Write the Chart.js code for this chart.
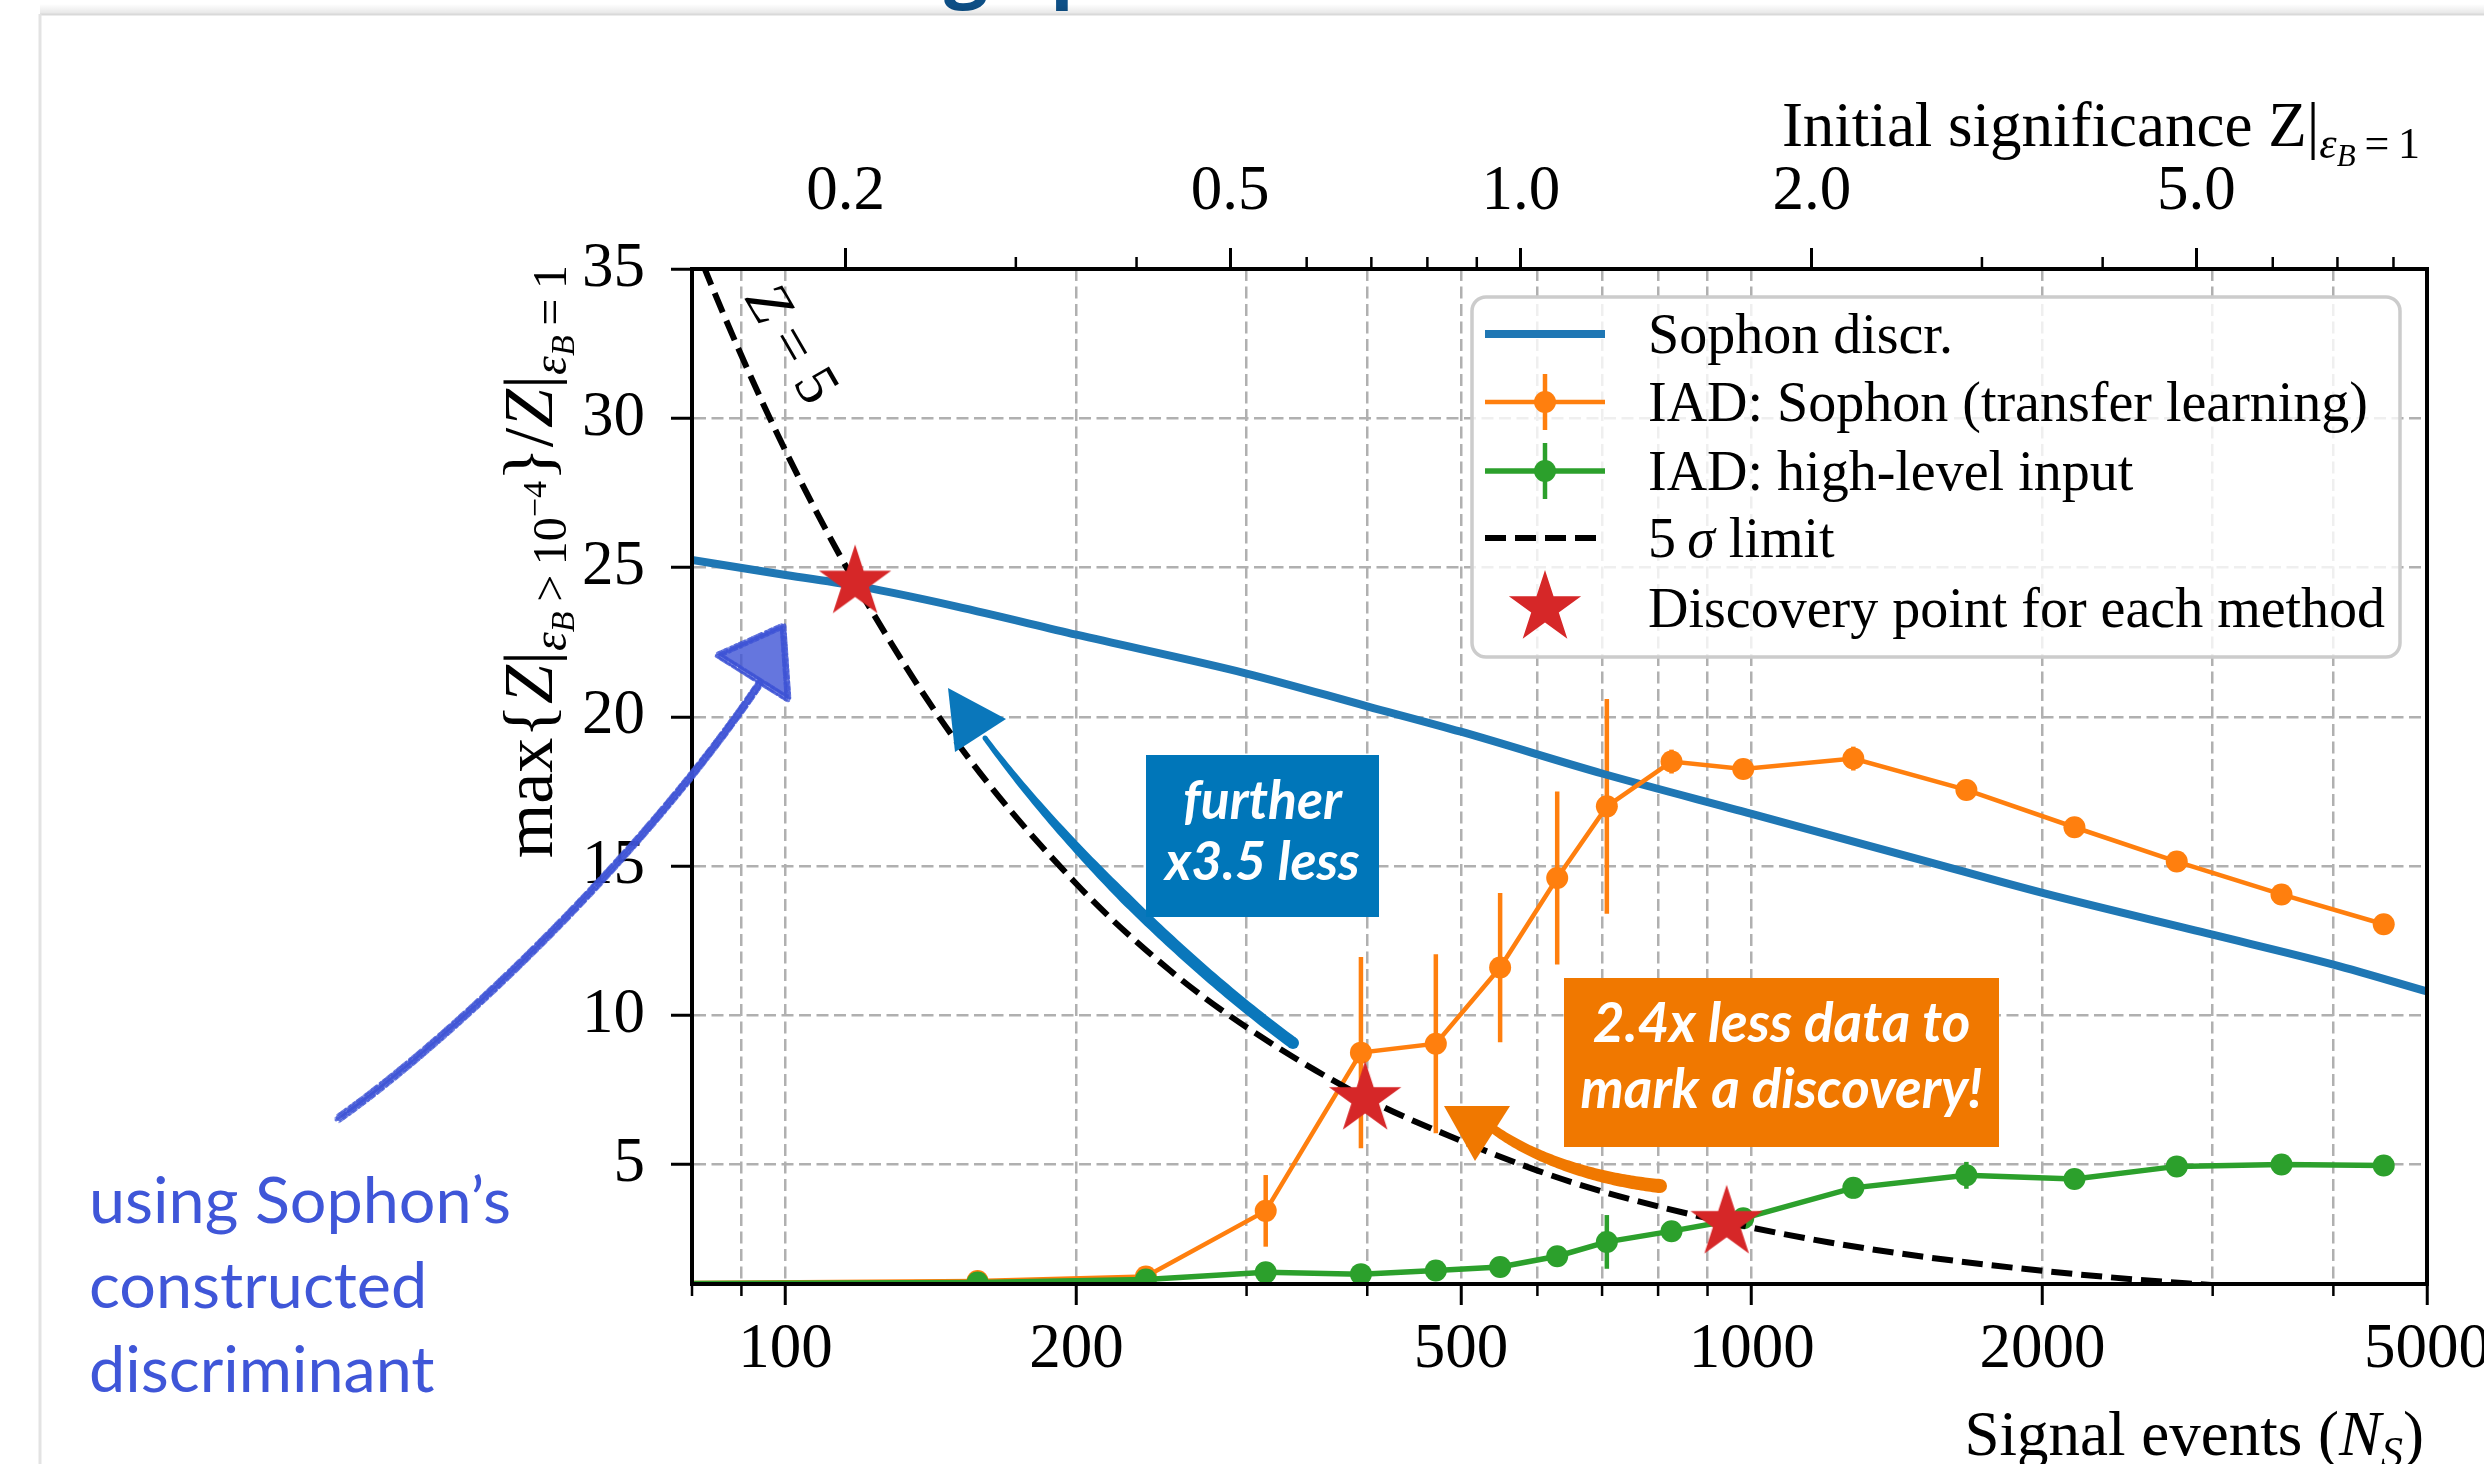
<!DOCTYPE html>
<html>
<head>
<meta charset="utf-8">
<title>Discovery significance vs signal events</title>
<script src="https://cdn.jsdelivr.net/npm/chart.js"></script>
<style>
  html, body { margin: 0; padding: 0; background: #fff; }
  canvas { display: block; }
</style>
</head>
<body>
<canvas id="discoveryChart" width="2484" height="1464"></canvas>
<script>
// signal-event grid shared by both IAD scans (first point sits left of the axis)
const iadEvents = [60, 158, 236, 314, 394, 471, 549, 629, 708, 826, 980, 1274, 1668, 2158, 2754, 3535, 4510];
const iadSophon = [1.0, 1.1, 1.25, 3.45, 8.75, 9.05, 11.6, 14.6, 17.0, 18.5, 18.25, 18.6, 17.55, 16.3, 15.15, 14.05, 13.05];
const iadSophonErr = [0, 0, 0.1, 1.2, 3.2, 3.0, 2.5, 2.9, 3.6, 0.4, 0.2, 0.4, 0.2, 0.2, 0.15, 0.15, 0.15];
const iadHighLevel = [1.0, 1.05, 1.15, 1.39, 1.33, 1.45, 1.57, 1.93, 2.41, 2.77, 3.2, 4.22, 4.64, 4.52, 4.94, 5.0, 4.97];
const iadHighLevelErr = [0, 0, 0.1, 0.15, 0.1, 0.15, 0.25, 0.25, 0.9, 0.2, 0.2, 0.35, 0.45, 0.2, 0.3, 0.3, 0.25];

// supervised Sophon discriminant
const sophonEvents = [80, 100, 120, 150, 200, 300, 400, 500, 700, 1000, 1500, 2000, 3000, 4000, 5000];
const sophonDiscr = [25.25, 24.75, 24.35, 23.7, 22.75, 21.45, 20.35, 19.5, 18.1, 16.75, 15.2, 14.1, 12.7, 11.7, 10.8];

// 5 sigma requirement
const limitEvents = [78, 82, 90, 100, 118, 150, 200, 250, 300, 400, 500, 600, 700, 800, 940, 1200, 1500, 2000, 2500, 2885, 3200];
const limit5Sigma = [37, 35.2, 32.1, 28.9, 24.5, 19.2, 14.4, 11.5, 9.6, 7.2, 5.8, 4.8, 4.1, 3.6, 3.07, 2.4, 1.92, 1.44, 1.15, 1.0, 0.9];

// where each method crosses the limit
const discoveryEvents = [118, 398, 942];
const discoverySignif = [24.5, 7.2, 3.05];

// axes
const xTickValues = [80, 90, 100, 200, 300, 400, 500, 600, 700, 800, 900, 1000, 2000, 3000, 4000, 5000];
const xTickLabels = [100, 200, 500, 1000, 2000, 5000];
const zTickValues = [0.2, 0.3, 0.4, 0.5, 0.6, 0.7, 0.8, 0.9, 1, 2, 3, 4, 5, 6, 7, 8];
const zTickLabels = [0.2, 0.5, 1, 2, 5];
const yTickValues = [5, 10, 15, 20, 25, 30, 35];
const eventsAtUnitZ = 577;   // N_S giving Z = 1 before any cut

const SERIF = '"Liberation Serif", "Times New Roman", serif';
const SANS = '"Lato", "Open Sans", sans-serif';
const C_BLUE = '#1f77b4', C_ORANGE = '#ff7f0e', C_GREEN = '#2ca02c', C_RED = '#d62728';
const GRID = '#b0b0b0';
const TICK_SIZE = 63;

Chart.defaults.font.family = SERIF;
Chart.defaults.color = '#000';

function starMarker(R, color) {
  const c = document.createElement('canvas');
  const s = Math.ceil(2 * R + 4);
  c.width = c.height = s;
  const g = c.getContext('2d');
  g.translate(s / 2, s / 2);
  g.beginPath();
  for (let k = 0; k < 10; k++) {
    const r = k % 2 ? R * 0.381966 : R;
    const a = -Math.PI / 2 + k * Math.PI / 5;
    g.lineTo(r * Math.cos(a), r * Math.sin(a));
  }
  g.closePath();
  g.fillStyle = color;
  g.fill();
  return c;
}
const star = starMarker(38, C_RED);

const pts = (xs, ys) => xs.map((x, i) => ({ x, y: ys[i] }));

// ---- text helpers -------------------------------------------------------
function runFont(r) { return (r.it ? 'italic ' : '') + r.size + 'px ' + SERIF; }
function runsWidth(ctx, runs) {
  let w = 0;
  runs.forEach(r => { ctx.font = runFont(r); w += ctx.measureText(r.t).width; });
  return w;
}
function drawRuns(ctx, runs, x, y) {
  runs.forEach(r => {
    ctx.font = runFont(r);
    ctx.fillText(r.t, x, y + (r.dy || 0));
    x += ctx.measureText(r.t).width;
  });
}
function fitSize(ctx, text, style, family, width) {
  ctx.font = style + ' 100px ' + family;
  return 100 * width / ctx.measureText(text).width;
}

// ---- brush shapes for the slide annotations ------------------------------
function cubicAt(p, t) {
  const u = 1 - t;
  return [0, 1].map(k => u * u * u * p[0][k] + 3 * u * u * t * p[1][k] + 3 * u * t * t * p[2][k] + t * t * t * p[3][k]);
}
function taperStroke(ctx, ctrl, widthAt, color) {
  const n = 80, left = [], right = [];
  for (let i = 0; i <= n; i++) {
    const t = i / n;
    const a = cubicAt(ctrl, Math.max(0, t - 0.005)), b = cubicAt(ctrl, Math.min(1, t + 0.005));
    const len = Math.hypot(b[0] - a[0], b[1] - a[1]) || 1;
    const nx = -(b[1] - a[1]) / len, ny = (b[0] - a[0]) / len;
    const p = cubicAt(ctrl, t), w = widthAt(t) / 2;
    left.push([p[0] + nx * w, p[1] + ny * w]);
    right.push([p[0] - nx * w, p[1] - ny * w]);
  }
  ctx.fillStyle = color;
  ctx.beginPath();
  left.forEach((q, i) => i ? ctx.lineTo(q[0], q[1]) : ctx.moveTo(q[0], q[1]));
  for (let i = right.length - 1; i >= 0; i--) ctx.lineTo(right[i][0], right[i][1]);
  ctx.closePath();
  ctx.fill();
  [0, 1].forEach(t => {
    const p = cubicAt(ctrl, t);
    ctx.beginPath();
    ctx.arc(p[0], p[1], widthAt(t) / 2, 0, 2 * Math.PI);
    ctx.fill();
  });
}
function triangle(ctx, a, b, c, color) {
  ctx.fillStyle = color;
  ctx.beginPath();
  ctx.moveTo(a[0], a[1]); ctx.lineTo(b[0], b[1]); ctx.lineTo(c[0], c[1]);
  ctx.closePath();
  ctx.fill();
}
// chalky pencil stroke: offset passes of the same curve with broken dash patterns
const chalkPasses = [
  [0, 0, 6, 0.75, []],
  [-3, 2, 3, 0.8, [7, 2, 3, 3, 11, 2]],
  [3, -2, 3, 0.8, [5, 3, 9, 2, 4, 1]],
  [-1.5, -3, 2.5, 0.7, [3, 2, 6, 4, 2, 2]],
  [1.5, 3, 2.5, 0.7, [8, 3, 2, 2, 5, 3]],
  [-4, 0, 1.5, 0.6, [2, 3, 4, 2]],
  [4, 0, 1.5, 0.6, [3, 2, 2, 4]],
  [0, 4.5, 1.5, 0.55, [2, 4, 3, 3]],
  [0, -4.5, 1.5, 0.55, [4, 3, 2, 2]]
];
function chalkCurve(ctx, ctrl, color) {
  ctx.strokeStyle = color;
  ctx.lineCap = 'round';
  chalkPasses.forEach(([dx, dy, w, a, dash]) => {
    ctx.globalAlpha = a;
    ctx.lineWidth = w;
    ctx.setLineDash(dash);
    ctx.beginPath();
    ctx.moveTo(ctrl[0][0] + dx, ctrl[0][1] + dy);
    ctx.bezierCurveTo(ctrl[1][0] + dx, ctrl[1][1] + dy, ctrl[2][0] + dx, ctrl[2][1] + dy, ctrl[3][0] + dx, ctrl[3][1] + dy);
    ctx.stroke();
  });
  ctx.setLineDash([]);
  ctx.globalAlpha = 1;
}
function chalkTriangle(ctx, tri, color) {
  ctx.globalAlpha = 0.8;
  triangle(ctx, tri[0], tri[1], tri[2], color);
  ctx.strokeStyle = color;
  ctx.lineJoin = 'round';
  chalkPasses.slice(1).forEach(([dx, dy, w, a, dash]) => {
    ctx.globalAlpha = a;
    ctx.lineWidth = w;
    ctx.setLineDash(dash);
    ctx.beginPath();
    tri.forEach((p, i) => i ? ctx.lineTo(p[0] + dx * 0.6, p[1] + dy * 0.6) : ctx.moveTo(p[0] + dx * 0.6, p[1] + dy * 0.6));
    ctx.closePath();
    ctx.stroke();
  });
  ctx.setLineDash([]);
  ctx.globalAlpha = 1;
}

// ---- plugin: error bars, frame, legend, axis titles, annotations ---------
const figureDecor = {
  id: 'figureDecor',
  beforeDraw(chart) {
    const ctx = chart.ctx;
    ctx.save();
    ctx.fillStyle = '#fff';
    ctx.fillRect(0, 0, chart.width, chart.height);
    // descenders of the slide title above the card
    ctx.save();
    ctx.beginPath(); ctx.rect(0, 0, chart.width, 14); ctx.clip();
    ctx.fillStyle = '#0d4f86';
    ctx.font = '700 78px "Open Sans", sans-serif';
    ctx.fillText('g', 944, -8);
    ctx.fillText('p', 1050, -8);
    ctx.restore();
    // card edge with a soft shadow
    const grad = ctx.createLinearGradient(0, 4, 0, 14);
    grad.addColorStop(0, 'rgba(0,0,0,0)');
    grad.addColorStop(1, 'rgba(0,0,0,0.10)');
    ctx.fillStyle = grad;
    ctx.fillRect(40, 4, chart.width - 40, 10);
    ctx.strokeStyle = '#d9d9d9';
    ctx.lineWidth = 2;
    ctx.beginPath(); ctx.moveTo(40, 14.5); ctx.lineTo(chart.width, 14.5); ctx.stroke();
    ctx.strokeStyle = '#e3e3e3';
    ctx.lineWidth = 3;
    ctx.beginPath(); ctx.moveTo(40, 14); ctx.lineTo(40, chart.height); ctx.stroke();
    ctx.restore();
  },

  beforeDatasetsDraw(chart) {
    const { ctx, chartArea: a, scales: { x, y } } = chart;
    ctx.save();
    ctx.beginPath(); ctx.rect(a.left, a.top, a.right - a.left, a.bottom - a.top); ctx.clip();
    ctx.lineWidth = 4.5;
    chart.data.datasets.forEach(ds => {
      if (!ds.errors) return;
      ctx.strokeStyle = ds.borderColor;
      ds.data.forEach((p, i) => {
        const e = ds.errors[i];
        if (!e) return;
        const px = x.getPixelForValue(p.x);
        ctx.beginPath();
        ctx.moveTo(px, y.getPixelForValue(p.y - e));
        ctx.lineTo(px, y.getPixelForValue(p.y + e));
        ctx.stroke();
      });
    });
    ctx.restore();
  },

  afterDatasetsDraw(chart) {
    const { ctx, chartArea: a, scales } = chart;
    ctx.save();
    // axes frame
    ctx.strokeStyle = '#000';
    ctx.lineWidth = 4;
    ctx.strokeRect(a.left, a.top, a.right - a.left, a.bottom - a.top);
    // minor ticks
    ctx.lineWidth = 2.5;
    xTickValues.filter(v => !xTickLabels.includes(v)).forEach(v => {
      const px = scales.x.getPixelForValue(v);
      ctx.beginPath(); ctx.moveTo(px, a.bottom); ctx.lineTo(px, a.bottom + 12); ctx.stroke();
    });
    zTickValues.filter(v => !zTickLabels.includes(v)).forEach(v => {
      const px = scales.xTop.getPixelForValue(v);
      ctx.beginPath(); ctx.moveTo(px, a.top); ctx.lineTo(px, a.top - 12); ctx.stroke();
    });

    // legend
    const box = { l: 1472, t: 297, r: 2400, b: 657 };
    ctx.beginPath();
    ctx.roundRect(box.l, box.t, box.r - box.l, box.b - box.t, 14);
    ctx.fillStyle = 'rgba(255,255,255,0.8)';
    ctx.fill();
    ctx.strokeStyle = '#cccccc';
    ctx.lineWidth = 3.5;
    ctx.stroke();
    const rows = [334, 402, 471, 538, 608];
    const hx0 = 1485, hx1 = 1605, hxc = 1545, tx = 1648;
    chart.data.datasets.forEach((ds, i) => {
      const cy = rows[i];
      ctx.setLineDash([]);
      if (ds.showLine === false) {
        ctx.drawImage(star, hxc - star.width / 2, cy - star.height / 2);
      } else {
        ctx.strokeStyle = ds.borderColor;
        ctx.lineWidth = ds.borderWidth;
        if (ds.borderDash) ctx.setLineDash(ds.borderDash);
        ctx.beginPath(); ctx.moveTo(hx0, cy); ctx.lineTo(hx1, cy); ctx.stroke();
        ctx.setLineDash([]);
        if (ds.errors) {
          ctx.lineWidth = 4.5;
          ctx.beginPath(); ctx.moveTo(hxc, cy - 28); ctx.lineTo(hxc, cy + 28); ctx.stroke();
          ctx.fillStyle = ds.borderColor;
          ctx.beginPath(); ctx.arc(hxc, cy, ds.pointRadius, 0, 2 * Math.PI); ctx.fill();
        }
      }
      ctx.fillStyle = '#000';
      ctx.textBaseline = 'alphabetic';
      if (ds.legendRuns) drawRuns(ctx, ds.legendRuns, tx, cy + 19);
      else { ctx.font = '56px ' + SERIF; ctx.fillText(ds.label, tx, cy + 19); }
    });
    ctx.restore();
  },

  afterDraw(chart) {
    const { ctx, chartArea: a } = chart;
    ctx.save();
    ctx.fillStyle = '#000';
    ctx.textBaseline = 'alphabetic';

    // top axis title
    const topRuns = [
      { t: 'Initial significance Z', size: 63 }, { t: '|', size: 63 },
      { t: 'ε', size: 44, it: true, dy: 12 }, { t: 'B', size: 31, it: true, dy: 20 },
      { t: '\u2009=\u20091', size: 44, dy: 12 }
    ];
    drawRuns(ctx, topRuns, 2420 - runsWidth(ctx, topRuns), 146);

    // bottom axis title
    const botRuns = [
      { t: 'Signal events (', size: 63 }, { t: 'N', size: 63, it: true },
      { t: 'S', size: 44, it: true, dy: 12 }, { t: ')', size: 63 }
    ];
    drawRuns(ctx, botRuns, 2424 - runsWidth(ctx, botRuns), 1455);

    // left axis title, rotated, ending at the top of the axes
    const yRuns = [
      { t: 'max{', size: 70 }, { t: 'Z', size: 70, it: true }, { t: '|', size: 70 },
      { t: 'ε', size: 48, it: true, dy: 14 }, { t: 'B', size: 34, it: true, dy: 22 },
      { t: '\u2009>\u200910', size: 48, dy: 14 }, { t: '−4', size: 34, dy: -6 },
      { t: '}', size: 70 }, { t: '/', size: 70 }, { t: 'Z', size: 70, it: true }, { t: '|', size: 70 },
      { t: 'ε', size: 48, it: true, dy: 14 }, { t: 'B', size: 34, it: true, dy: 22 },
      { t: '\u2009=\u20091', size: 48, dy: 14 }
    ];
    ctx.save();
    ctx.translate(552, a.top - 4);
    ctx.rotate(-Math.PI / 2);
    drawRuns(ctx, yRuns, -runsWidth(ctx, yRuns), 0);
    ctx.restore();

    // Z = 5 along the limit curve
    ctx.save();
    ctx.translate(793, 343);
    ctx.rotate(60 * Math.PI / 180);
    const zRuns = [{ t: 'Z', size: 60, it: true }, { t: ' = ', size: 60 }, { t: '5', size: 60 }];
    drawRuns(ctx, zRuns, -runsWidth(ctx, zRuns) / 2, 20);
    ctx.restore();

    // blue arrow and box
    const blueNote = '#0a77bb';
    taperStroke(ctx, [[1293, 1043], [1180, 960], [1060, 840], [985, 738]],
      t => (t < 0.5 ? 12 : 12 - (t - 0.5) * 14), blueNote);
    triangle(ctx, [948, 688], [1006, 719], [955, 752], blueNote);
    ctx.fillStyle = '#0076b9';
    ctx.fillRect(1146, 755, 233, 162);
    ctx.fillStyle = '#fff';
    ctx.textAlign = 'center';
    let s = (fitSize(ctx, 'further', 'italic 700', SANS, 157) + fitSize(ctx, 'x3.5 less', 'italic 700', SANS, 197)) / 2;
    ctx.font = 'italic 700 ' + s + 'px ' + SANS;
    ctx.fillText('further', 1262.5, 819);
    ctx.fillText('x3.5 less', 1262.5, 880);

    // orange arrow and box
    const orangeNote = '#f07800';
    taperStroke(ctx, [[1660, 1186], [1600, 1180], [1535, 1160], [1492, 1128]], t => 14 - 5 * t, orangeNote);
    triangle(ctx, [1444, 1106], [1510, 1106], [1475, 1161], orangeNote);
    ctx.fillStyle = orangeNote;
    ctx.fillRect(1564, 978, 435, 169);
    ctx.fillStyle = '#fff';
    s = (fitSize(ctx, '2.4x less data to', 'italic 700', SANS, 376) + fitSize(ctx, 'mark a discovery!', 'italic 700', SANS, 404)) / 2;
    ctx.font = 'italic 700 ' + s + 'px ' + SANS;
    ctx.fillText('2.4x less data to', 1781.5, 1042);
    ctx.fillText('mark a discovery!', 1781.5, 1108);

    // hand-drawn pointer to the Sophon curve
    const sketch = '#3e54d6';
    chalkCurve(ctx, [[339, 1118], [450, 1040], [640, 860], [760, 683]], sketch);
    chalkTriangle(ctx, [[718, 655], [783, 626], [788, 699]], sketch);
    ctx.textAlign = 'left';
    ctx.fillStyle = '#3f56d8';
    s = fitSize(ctx, 'using Sophon’s', '400', SANS, 422);
    ctx.font = '400 ' + s + 'px ' + SANS;
    ctx.fillText('using Sophon’s', 89, 1223);
    ctx.fillText('constructed', 89, 1308);
    ctx.fillText('discriminant', 89, 1392);
    ctx.restore();
  }
};

function tickColorFor(labels) {
  return c => (c.tick && labels.includes(c.tick.value)) ? '#000' : 'rgba(0,0,0,0)';
}

new Chart(document.getElementById('discoveryChart'), {
  type: 'line',
  data: {
    datasets: [
      {
        label: 'Sophon discr.',
        data: pts(sophonEvents, sophonDiscr),
        borderColor: C_BLUE, borderWidth: 8, pointRadius: 0,
        cubicInterpolationMode: 'monotone', order: 5
      },
      {
        label: 'IAD: Sophon (transfer learning)',
        data: pts(iadEvents, iadSophon), errors: iadSophonErr,
        borderColor: C_ORANGE, backgroundColor: C_ORANGE, borderWidth: 4.5,
        pointRadius: 11, pointBorderWidth: 0, pointBackgroundColor: C_ORANGE, order: 4
      },
      {
        label: 'IAD: high-level input',
        data: pts(iadEvents, iadHighLevel), errors: iadHighLevelErr,
        borderColor: C_GREEN, backgroundColor: C_GREEN, borderWidth: 5.5,
        pointRadius: 11, pointBorderWidth: 0, pointBackgroundColor: C_GREEN, order: 3
      },
      {
        label: '5σ limit',
        legendRuns: [{ t: '5', size: 56 }, { t: '\u2009', size: 56 }, { t: 'σ', size: 56, it: true }, { t: ' limit', size: 56 }],
        data: pts(limitEvents, limit5Sigma),
        borderColor: '#000', borderWidth: 6, borderDash: [21, 9], pointRadius: 0,
        cubicInterpolationMode: 'monotone', order: 2
      },
      {
        label: 'Discovery point for each method',
        data: pts(discoveryEvents, discoverySignif),
        showLine: false, pointStyle: star, pointRadius: 10, order: 1
      }
    ]
  },
  options: {
    responsive: false,
    devicePixelRatio: 1,
    animation: false,
    events: [],
    layout: { padding: { left: 0, top: 0, right: 57, bottom: 0 } },
    plugins: { legend: { display: false }, tooltip: { enabled: false } },
    scales: {
      x: {
        type: 'logarithmic', position: 'bottom', min: 80, max: 5000,
        afterBuildTicks: s => { s.ticks = xTickValues.map(v => ({ value: v })); },
        afterFit: s => { s.height = 180; s.paddingLeft = 0; s.paddingRight = 0; },
        ticks: {
          autoSkip: false, maxRotation: 0, minRotation: 0, padding: 8, color: '#000',
          font: { family: SERIF, size: TICK_SIZE },
          callback: v => (xTickLabels.includes(v) ? String(v) : '')
        },
        grid: { color: GRID, lineWidth: 2.5, tickLength: 21, tickWidth: 3, tickColor: tickColorFor(xTickLabels) },
        border: { color: '#000', width: 4, dash: [12, 5.5] }
      },
      xTop: {
        type: 'logarithmic', position: 'top',
        min: 80 / eventsAtUnitZ, max: 5000 / eventsAtUnitZ,
        afterBuildTicks: s => { s.ticks = zTickValues.map(v => ({ value: v })); },
        afterFit: s => { s.height = 269; s.paddingLeft = 0; s.paddingRight = 0; },
        ticks: {
          autoSkip: false, maxRotation: 0, minRotation: 0, padding: 18, color: '#000',
          font: { family: SERIF, size: TICK_SIZE },
          callback: v => (zTickLabels.includes(v) ? v.toFixed(1) : '')
        },
        grid: { drawOnChartArea: false, tickLength: 21, tickWidth: 3, tickColor: tickColorFor(zTickLabels) },
        border: { color: '#000', width: 4 }
      },
      y: {
        type: 'linear', position: 'left', min: 1, max: 35,
        afterBuildTicks: s => { s.ticks = yTickValues.map(v => ({ value: v })); },
        afterFit: s => { s.width = 692; s.paddingTop = 0; s.paddingBottom = 0; },
        ticks: { padding: 26, color: '#000', font: { family: SERIF, size: TICK_SIZE } },
        grid: { color: GRID, lineWidth: 2.5, tickLength: 21, tickWidth: 3, tickColor: '#000' },
        border: { color: '#000', width: 4, dash: [12, 5.5] }
      }
    }
  },
  plugins: [figureDecor]
});
</script>
</body>
</html>
